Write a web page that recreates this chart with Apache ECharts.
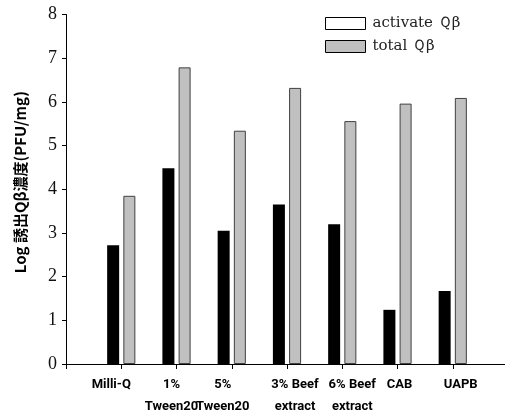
<!DOCTYPE html>
<html>
<head>
<meta charset="utf-8">
<title>Qβ</title>
<script src="https://cdn.jsdelivr.net/npm/echarts@6/dist/echarts.min.js"></script>
<style>
  html, body { margin: 0; padding: 0; background: #fff; }
  #chart { width: 505px; height: 412px; }
</style>
</head>
<body>
<div id="chart"></div>
<script>
// categories (empty ones pad the ends of the axis)
var categories = ['', 'Milli-Q', '1%\nTween20', '5%\nTween20', '3% Beef\nextract', '6% Beef\nextract', 'CAB', 'UAPB', ''];
var activateQb = ['-', 2.72, 4.48, 3.05, 3.65, 3.20, 1.24, 1.67, '-'];
var totalQb = ['-', 3.85, 6.79, 5.34, 6.32, 5.56, 5.96, 6.09, '-'];
var seriesNames = ['activate Ｑβ', 'total Ｑβ'];
var yTicks = { min: 0, max: 8, interval: 1 };

// labels in the picture sit a bit off the ticks: padding [right, left] moves them
var labelPad = [[0, 0], [20, 0], [10, 0], [18, 0], [0, 16], [0, 20], [0, 4], [0, 16], [0, 0]];
var xData = categories.map(function (c, i) {
  return { value: c, textStyle: { padding: [0, labelPad[i][0], 0, labelPad[i][1]] } };
});

var chart = echarts.init(document.getElementById('chart'));
chart.setOption({
  animation: false,
  grid: { left: 66, right: -3, top: 14.5, bottom: 48, outerBoundsMode: 'none' },
  legend: {
    orient: 'vertical',
    left: 320,
    top: 11,
    itemWidth: 40,
    itemHeight: 12,
    itemGap: 8,
    textStyle: { fontFamily: 'DejaVu Serif', fontSize: 15, color: '#222', padding: [0, 0, 0, 2] },
    data: [
      { name: seriesNames[0], icon: 'rect', itemStyle: { color: '#fff', borderColor: '#000', borderWidth: 1 } },
      { name: seriesNames[1], icon: 'rect', itemStyle: { color: '#c0c0c0', borderColor: '#000', borderWidth: 1 } }
    ]
  },
  xAxis: {
    type: 'category',
    boundaryGap: false,
    data: xData,
    axisLine: { lineStyle: { color: '#000', width: 1 } },
    axisTick: { show: true, length: 5, lineStyle: { color: '#000' } },
    axisLabel: {
      interval: 0,
      margin: 10,
      color: '#000',
      fontFamily: 'Roboto',
      fontWeight: 'bold',
      fontSize: 13,
      lineHeight: 22
    },
    splitLine: { show: false }
  },
  yAxis: {
    type: 'value',
    min: yTicks.min,
    max: yTicks.max,
    interval: yTicks.interval,
    name: 'Log 誘出Qβ濃度(PFU/mg)',
    nameLocation: 'middle',
    nameGap: 38,
    nameTextStyle: {
      fontFamily: 'Noto Sans CJK JP',
      fontWeight: 'bold',
      fontSize: 15,
      color: '#000',
      padding: [0, 0, 0, 14]
    },
    axisLine: { show: true, lineStyle: { color: '#000', width: 1 } },
    axisTick: { show: true, length: 4, lineStyle: { color: '#000' } },
    axisLabel: { margin: 9, color: '#111', fontFamily: 'Liberation Serif', fontSize: 18 },
    splitLine: { show: false }
  },
  series: [
    {
      name: seriesNames[0],
      type: 'bar',
      barWidth: 12,
      barGap: '35%',
      itemStyle: { color: '#000' },
      data: activateQb
    },
    {
      name: seriesNames[1],
      type: 'bar',
      barWidth: 12,
      itemStyle: { color: '#c0c0c0', borderColor: '#404040', borderWidth: 1 },
      data: totalQb
    }
  ]
});
</script>
</body>
</html>
